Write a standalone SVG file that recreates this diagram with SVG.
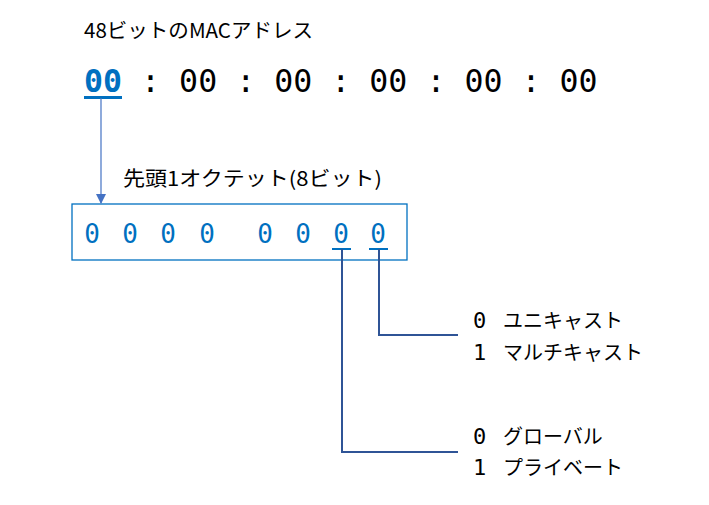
<svg xmlns="http://www.w3.org/2000/svg" width="709" height="505" viewBox="0 0 709 505">
<style>
.jp{font-family:"Noto Sans CJK JP","Noto Sans",sans-serif;font-size:20px;fill:#000}
.mono{font-family:"DejaVu Sans Mono","Liberation Mono",monospace}
.bit{font-family:"DejaVu Sans Mono","Liberation Mono",monospace;font-size:26px;fill:#0070C0;text-anchor:middle}
.lbl{font-family:"Noto Sans CJK JP","Noto Sans",sans-serif;font-size:20px;fill:#000}
.conn{fill:none;stroke:#2F5496;stroke-width:2}
</style>
<defs>
<marker id="arr" markerWidth="10" markerHeight="10" refX="9" refY="5" orient="auto" markerUnits="userSpaceOnUse">
<path d="M0,0 L10,5 L0,10 Z" fill="#4472C4"/>
</marker>
</defs>
<rect width="709" height="505" fill="#fff"/>
<g id="title">
<text class="jp" x="84" y="38" textLength="229" lengthAdjust="spacingAndGlyphs">48ビットのMACアドレス</text>
</g>
<g id="mac">
<text class="mono" x="84" y="92" font-size="31.6" xml:space="preserve"><tspan fill="#0070C0" font-weight="bold">00</tspan> : 00 : 00 : 00 : 00 : 00</text>
<line x1="84" y1="97.5" x2="122" y2="97.5" stroke="#0070C0" stroke-width="3"/>
</g>
<g id="octet-title">
<text class="jp" x="123" y="186" textLength="259" lengthAdjust="spacingAndGlyphs">先頭1オクテット(8ビット)</text>
</g>
<g id="octet">
<rect x="72" y="204" width="335" height="56" fill="none" stroke="#0070C0" stroke-width="1.3"/>
<text class="bit" x="92" y="243">0</text>
<text class="bit" x="130" y="243">0</text>
<text class="bit" x="168" y="243">0</text>
<text class="bit" x="207" y="243">0</text>
<text class="bit" x="265" y="243">0</text>
<text class="bit" x="303" y="243">0</text>
<text class="bit" x="341" y="243">0</text>
<text class="bit" x="378" y="243">0</text>
<line x1="332" y1="249" x2="351" y2="249" stroke="#0070C0" stroke-width="2"/>
<line x1="369" y1="249" x2="388" y2="249" stroke="#0070C0" stroke-width="2"/>
</g>
<g id="cast-label">
<text class="lbl" x="473" y="328"><tspan class="mono" font-size="22">0</tspan><tspan x="503">ユニキャスト</tspan></text>
<text class="lbl" x="473" y="360"><tspan class="mono" font-size="22">1</tspan><tspan x="503">マルチキャスト</tspan></text>
</g>
<g id="scope-label">
<text class="lbl" x="473" y="444"><tspan class="mono" font-size="22">0</tspan><tspan x="503">グローバル</tspan></text>
<text class="lbl" x="473" y="475"><tspan class="mono" font-size="22">1</tspan><tspan x="503">プライベート</tspan></text>
</g>
<g id="connectors">
<line x1="101" y1="98" x2="101" y2="203" stroke="#4472C4" stroke-width="1.2" marker-end="url(#arr)"/>
<polyline class="conn" points="379,249 379,335 458,335"/>
<polyline class="conn" points="342,249 342,452 458,452"/>
</g>
</svg>
